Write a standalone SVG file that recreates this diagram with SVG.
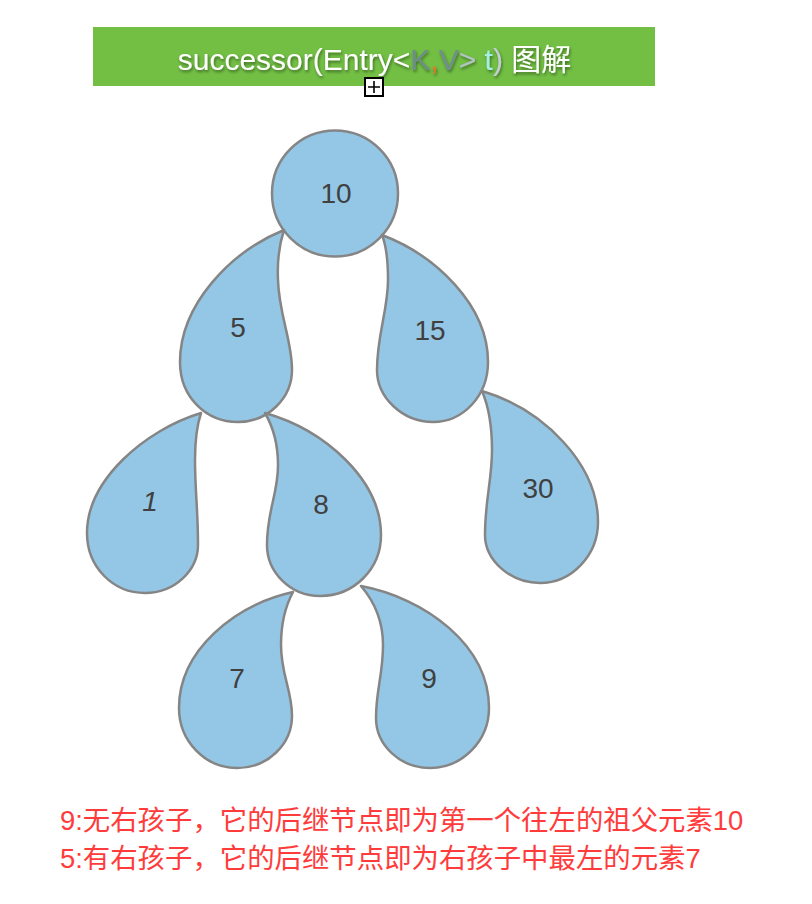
<svg xmlns="http://www.w3.org/2000/svg" width="812" height="904" viewBox="0 0 812 904">
<defs>
<style>
.node{fill:#94c7e6;stroke:#858585;stroke-width:2.5;stroke-linejoin:round}
.lbl{font-family:"Liberation Sans","Noto Sans",sans-serif;font-size:28px;fill:#404040;text-anchor:middle}
.note{font-family:"Liberation Sans","Noto Sans CJK SC",sans-serif;font-size:27.4px;fill:#ff3b3b}
.title{font-family:"Liberation Sans","Noto Sans CJK SC",sans-serif;font-size:30px;fill:#ffffff}
</style>
<filter id="sh" x="-10%" y="-30%" width="120%" height="160%">
<feDropShadow dx="1" dy="2" stdDeviation="1.5" flood-color="#000" flood-opacity="0.45"/>
</filter>
</defs>
<rect width="812" height="904" fill="#ffffff"/>
<g id="title">
<rect x="93" y="27" width="562" height="59" fill="#72bf44"/>
<text class="title" x="374.5" y="70" text-anchor="middle" filter="url(#sh)">successor(Entry&lt;<tspan fill="#6e8c8c">K</tspan><tspan fill="#e0782a">,</tspan><tspan fill="#728e90">V</tspan><tspan fill="#b4c2c6">&gt;</tspan> <tspan fill="#a6eee4">t</tspan><tspan fill="#c4ccd6">)</tspan> 图解</text>
<rect x="365" y="78" width="18" height="18" fill="#ffffff" stroke="#000" stroke-width="2"/>
<path d="M368,87 H380 M374,81 V93" stroke="#000" stroke-width="1.6" fill="none"/>
</g>
<g id="connectors"></g>
<g id="n10">
<circle class="node" cx="335" cy="193.5" r="63"/>
<text class="lbl" x="336" y="203">10</text>
</g>
<g id="n5">
<path class="node" d="M284,230 C230,252 180,305 180,362 C180,397 206,422 238,422 C268,422 292,398 292,370 C292,340 279,315 278,280 C277,258 280,242 284,230 Z"/>
<text class="lbl" x="238" y="337">5</text>
</g>
<g id="n15">
<path class="node" d="M382,235 C435,255 488,305 488,362 C488,396 463,422 433,422 C403,422 377,398 377,370 C377,335 388,310 388,280 C388,258 386,245 382,235 Z"/>
<text class="lbl" x="430" y="340">15</text>
</g>
<g id="n1">
<path class="node" d="M201,413 C145,430 87,480 87,533 C87,567 113,593 145,593 C175,593 198,570 198,545 C198,510 195,490 195,460 C195,440 197,425 201,413 Z"/>
<text class="lbl" x="150" y="511" font-style="italic">1</text>
</g>
<g id="n8">
<path class="node" d="M265,413 C325,430 381,480 381,535 C381,569 354,596 320,596 C290,596 267,572 267,545 C267,510 278,495 278,465 C278,440 272,425 265,413 Z"/>
<text class="lbl" x="321" y="514">8</text>
</g>
<g id="n30">
<path class="node" d="M482,391 C545,410 598,465 598,522 C598,555 572,583 540,583 C510,583 485,560 485,535 C485,500 492,480 492,450 C492,425 488,405 482,391 Z"/>
<text class="lbl" x="538" y="498">30</text>
</g>
<g id="n7">
<path class="node" d="M293,592 C235,605 179,650 179,708 C179,741 205,768 237,768 C268,768 292,744 292,716 C292,690 281,675 281,645 C281,622 286,605 293,592 Z"/>
<text class="lbl" x="237" y="688">7</text>
</g>
<g id="n9">
<path class="node" d="M361,586 C425,598 489,645 489,708 C489,741 462,768 430,768 C400,768 376,745 376,718 C376,690 383,675 383,645 C383,620 373,600 361,586 Z"/>
<text class="lbl" x="429" y="688">9</text>
</g>
<g id="notes">
<text class="note" x="60" y="830">9:无右孩子，它的后继节点即为第一个往左的祖父元素10</text>
<text class="note" x="60" y="868">5:有右孩子，它的后继节点即为右孩子中最左的元素7</text>
</g>
</svg>
